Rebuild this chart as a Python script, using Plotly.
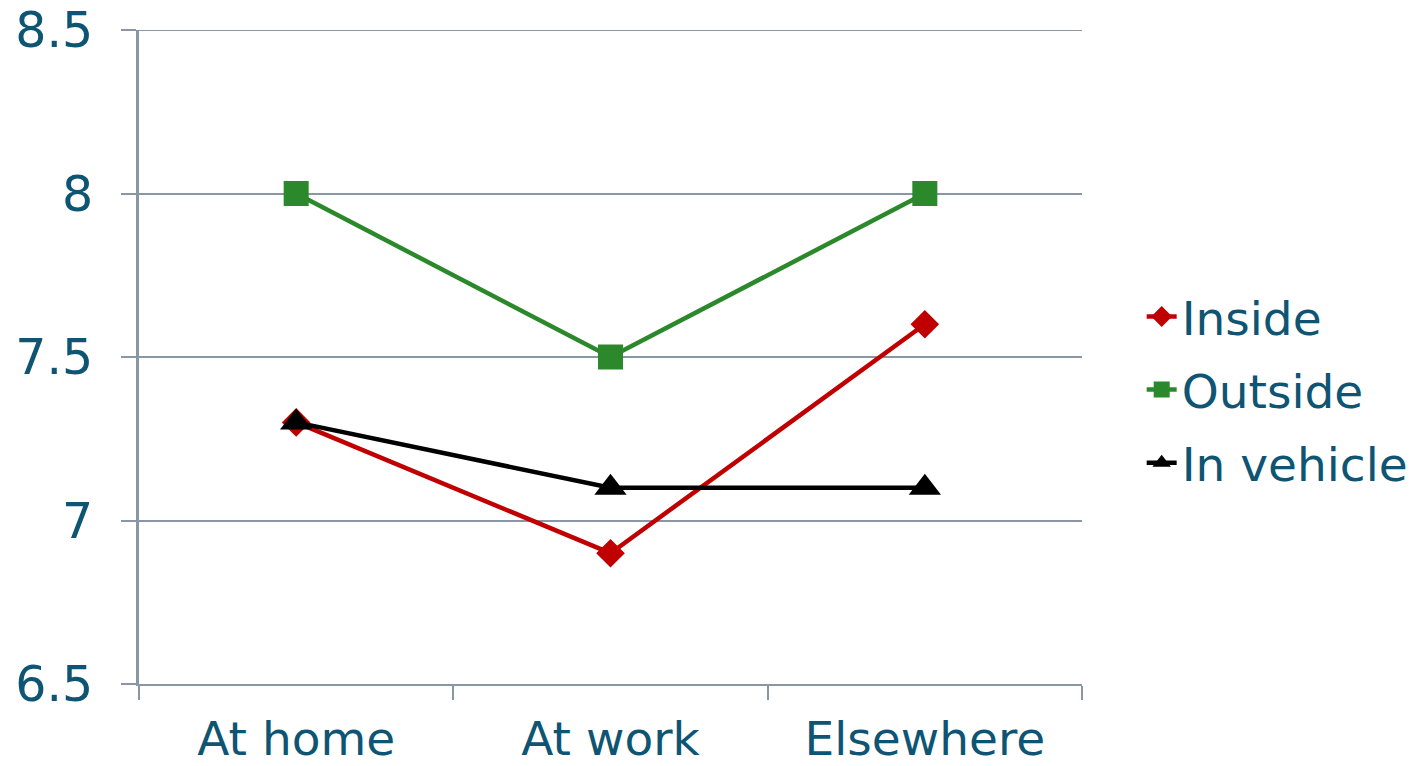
import plotly.graph_objects as go

categories = ["At home", "At work", "Elsewhere"]
inside = [7.3, 6.9, 7.6]
outside = [8.0, 7.5, 8.0]
in_vehicle = [7.3, 7.1, 7.1]
y_ticks = [6.5, 7, 7.5, 8, 8.5]
y_tick_text = ["6.5", "7", "7.5", "8", "8.5"]

TEXT = "#0E5473"
AXIS = "#8896A5"
FONT = "Verdana, DejaVu Sans, sans-serif"

fig = go.Figure()
fig.add_trace(go.Scatter(x=categories, y=inside, name="Inside", mode="lines+markers",
                         legendgroup="a",
                         line=dict(color="#C00000", width=4.5),
                         marker=dict(symbol="diamond", size=22, color="#C00000")))
fig.add_trace(go.Scatter(x=categories, y=outside, name="Outside", mode="lines+markers",
                         legendgroup="b",
                         line=dict(color="#2B882B", width=4.5),
                         marker=dict(symbol="square", size=25, color="#2B882B")))
fig.add_trace(go.Scatter(x=categories, y=in_vehicle, name="In vehicle", mode="lines+markers",
                         legendgroup="c",
                         line=dict(color="#000000", width=4.5),
                         marker=dict(symbol="triangle-up", size=28, color="#000000")))

# top gridline at the range edge (plotly clips grid lines at the plot edges)
fig.add_shape(type="line", xref="paper", yref="y", x0=0, x1=1,
              y0=y_ticks[-1], y1=y_ticks[-1], line=dict(color=AXIS, width=2), layer="below")

fig.update_layout(
    width=1420, height=766,
    margin=dict(l=139, r=338, t=30, b=82, autoexpand=False),
    paper_bgcolor="white", plot_bgcolor="white",
    font=dict(family=FONT, color=TEXT, size=46),
    showlegend=True,
    legend=dict(xref="container", yref="container",
                x=0.804, xanchor="left", y=0.4909, yanchor="middle",
                font=dict(family=FONT, color=TEXT, size=47),
                bgcolor="rgba(0,0,0,0)", traceorder="grouped", tracegroupgap=9,
                itemwidth=30),
)
fig.update_xaxes(
    type="category", range=[-0.5, 2.5], showgrid=False, automargin=False,
    showline=True, linecolor=AXIS, linewidth=2,
    ticks="outside", tickson="boundaries", ticklen=14, tickcolor=AXIS, tickwidth=2,
    tickfont=dict(family=FONT, color=TEXT, size=47), zeroline=False,
    ticklabelstandoff=13,
)
fig.update_yaxes(
    range=[6.5, 8.5], tickvals=y_ticks, ticktext=y_tick_text, automargin=False,
    showgrid=True, gridcolor=AXIS, gridwidth=2,
    showline=True, linecolor=AXIS, linewidth=3,
    ticks="outside", ticklen=15, tickcolor=AXIS, tickwidth=2,
    tickfont=dict(family=FONT, color=TEXT, size=49), zeroline=False,
    ticklabelstandoff=18,
)

fig.write_html("out.html")
